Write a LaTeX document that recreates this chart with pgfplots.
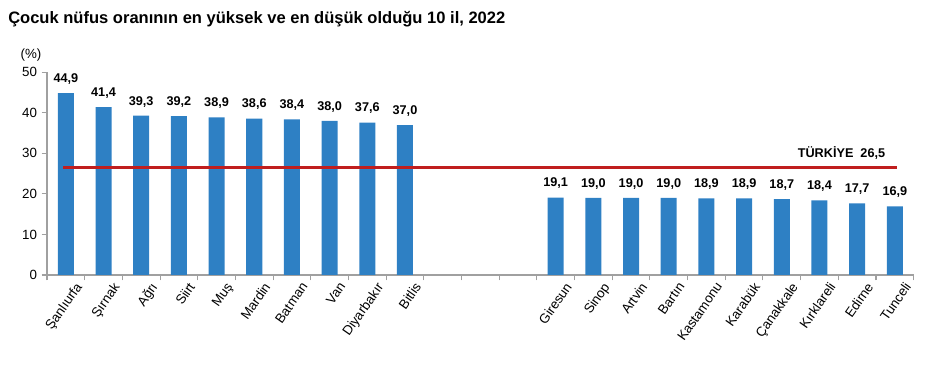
\documentclass[border=0pt]{standalone}
\usepackage{pgfplots}
\pgfplotsset{compat=1.18}
\usepackage{fontspec}
\setmainfont{Liberation Sans}
\definecolor{barblue}{RGB}{46,128,196}
\definecolor{linered}{RGB}{192,30,30}
\definecolor{axgray}{RGB}{160,160,160}
\begin{document}
\begin{tikzpicture}[x=1pt,y=1pt]
\useasboundingbox (-35.25,-68.25) rectangle (663,206.25);
\node[anchor=west, font=\bfseries\fontsize{12.4}{14}\selectfont, inner sep=0pt] at (-29.25,191.5) {Çocuk nüfus oranının en yüksek ve en düşük olduğu 10 il, 2022};
\node[font=\fontsize{10}{12}\selectfont, inner sep=0pt] at (-12,165) {(\%)};
\begin{axis}[
  at={(0,0)}, anchor=south west,
  scale only axis, width=650pt, height=152pt,
  xmin=-0.5, xmax=22.5, ymin=0, ymax=50,
  axis x line*=bottom, axis y line*=left,
  axis line style={draw=axgray, line width=0.8pt, -},
  tick style={draw=axgray, line width=0.8pt},
  tick align=outside, major tick length=4pt,
  ytick={0,10,...,50},
  xtick={-0.5,0.5,...,22.5}, xticklabels={},
  extra x ticks={0,1,2,3,4,5,6,7,8,9,13,14,15,16,17,18,19,20,21,22},
  extra x tick labels={Şanlıurfa,Şırnak,Ağrı,Siirt,Muş,Mardin,Batman,Van,Diyarbakır,Bitlis,Giresun,Sinop,Artvin,Bartın,Kastamonu,Karabük,Çanakkale,Kırklareli,Edirne,Tunceli},
  extra x tick style={major tick length=0pt, xticklabel style={rotate=55, anchor=north east, inner sep=1pt, yshift=-7pt, xshift=1pt, font=\fontsize{10}{12}\selectfont}},
  yticklabel style={font=\fontsize{10}{12}\selectfont},
  /pgf/number format/assume math mode=true,
  clip=false,
]
\addplot[ybar, bar width=12pt, fill=barblue, draw=none,
  nodes near coords,
  every node near coord/.append style={font=\bfseries\fontsize{9.5}{11}\selectfont, black, yshift=3pt},
  nodes near coords style={/pgf/number format/.cd, fixed, fixed zerofill, precision=1, use comma, assume math mode=true}]
coordinates {(0,44.9) (1,41.4) (2,39.3) (3,39.2) (4,38.9) (5,38.6) (6,38.4) (7,38.0) (8,37.6) (9,37.0)
(13,19.1) (14,19.0) (15,19.0) (16,19.0) (17,18.9) (18,18.9) (19,18.7) (20,18.4) (21,17.7) (22,16.9)};
\addplot[linered, line width=2.4pt, mark=none] coordinates {(-0.08,26.5) (22.05,26.5)};
\node[anchor=south east, font=\bfseries\fontsize{9.5}{11}\selectfont, inner sep=0pt] at (axis cs:21.75,26.5) [yshift=6pt] {TÜRKİYE\ \ 26,5};
\end{axis}
\end{tikzpicture}
\end{document}
